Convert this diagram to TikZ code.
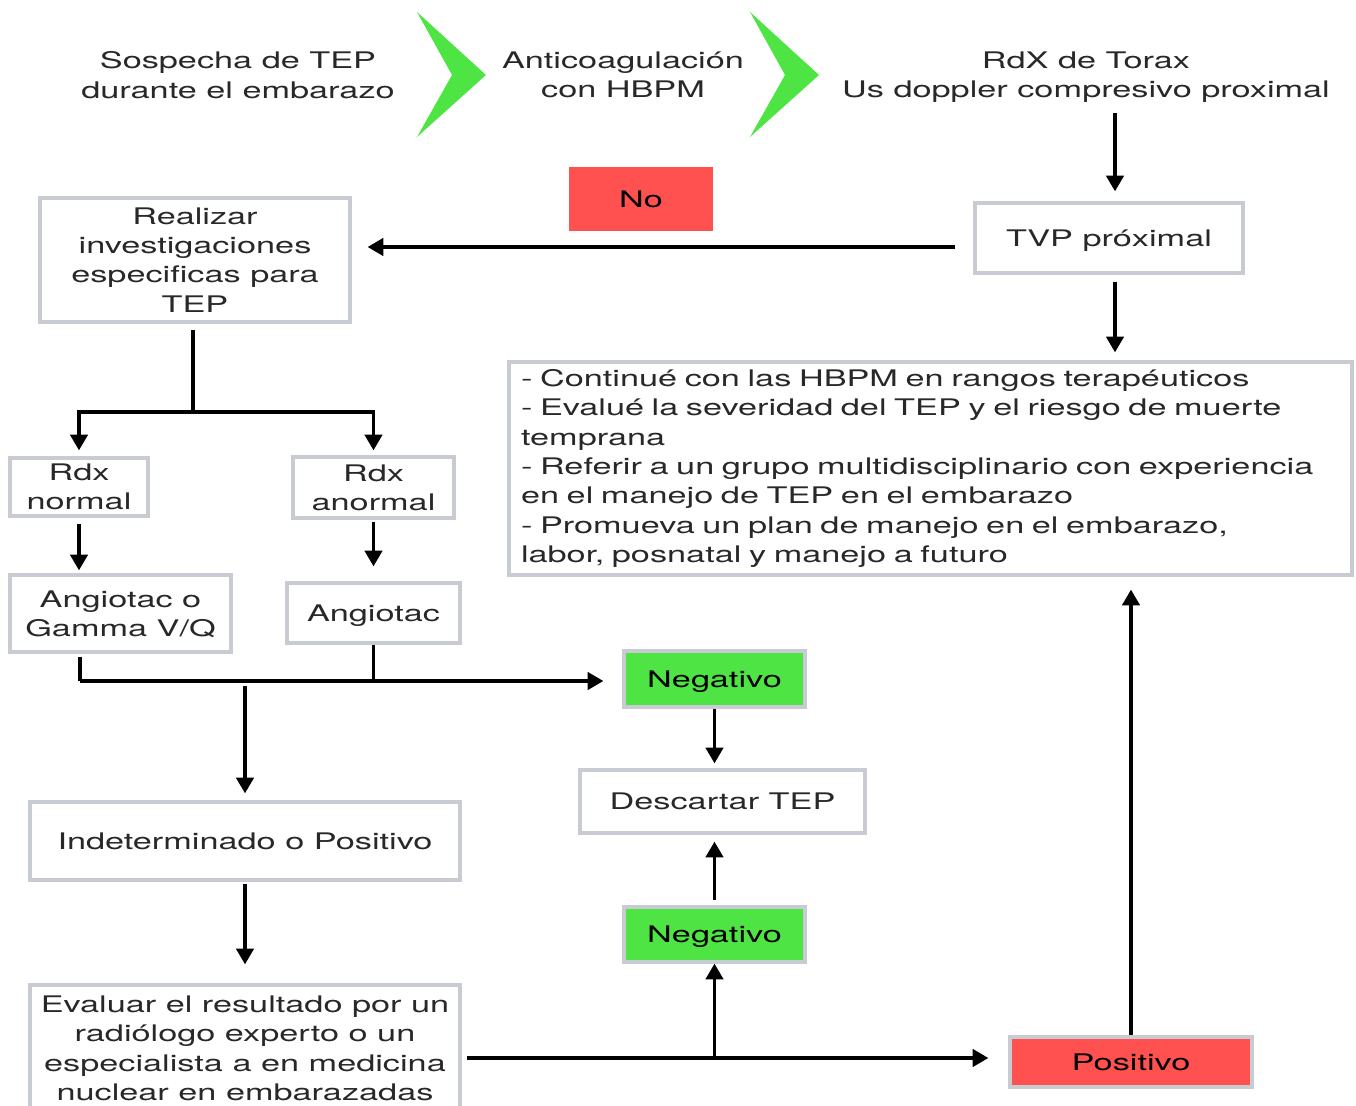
\documentclass[tikz,border=0pt]{standalone}
\usepackage{fontspec}
\setmainfont[FakeStretch=1.5]{TeX Gyre Heros}
\usetikzlibrary{arrows.meta}
\definecolor{boxgray}{RGB}{200,203,210}
\definecolor{txtgray}{RGB}{40,40,40}
\definecolor{okgreen}{RGB}{78,229,68}
\definecolor{badred}{RGB}{255,82,80}
\begin{document}
\begin{tikzpicture}[
  txt/.style={text=txtgray, font=\fontsize{13}{16.7}\selectfont, align=center},
  head/.style={txt, text depth=0pt, inner sep=0pt, minimum height=1.5cm},
  frame/.style={txt, draw=boxgray, line width=1.9pt},
  box/.style={frame, text depth=0pt, inner sep=0pt},
  okbox/.style={box, fill=okgreen, text=black},
  badbox/.style={box, fill=badred, text=black},
  lin/.style={line width=1.8pt},
  arr/.style={lin, -{Triangle[length=9pt,width=10pt]}}
]
\useasboundingbox (0,0) rectangle (27.12,-22.12);
% top row
  \node[head] (susp) at (4.76,-1.5) {Sospecha de TEP\\durante el embarazo};
  \node[head] (antic) at (12.46,-1.5) {Anticoagulación\\con HBPM};
  \node[head] (rdx) at (21.72,-1.5) {RdX de Torax\\Us doppler compresivo proximal};
  \foreach \x in {8.34,15.0}
  	\fill[okgreen] (\x,-0.24) --++ (1.38,-1.26) --++ (-1.38,-1.24) --++ (0.7,1.24) -- cycle;
% boxes
  \node[box, minimum width=5.36cm, minimum height=1.4cm] (tvp) at (22.18,-4.76) {TVP próximal};
  \node[txt, text depth=0pt, fill=badred, text=black, minimum width=2.88cm, minimum height=1.28cm] (no) at (12.82,-3.98) {No};
  \node[box, minimum width=6.2cm, minimum height=2.48cm] (real) at (3.9,-5.2) {Realizar\\investigaciones\\especificas para\\TEP};
  \node[frame, text width=16.38cm, align=left, inner xsep=0.24cm, inner ysep=0.08cm, minimum height=4.26cm] (plan) at (18.61,-9.37)
    {- Continué con las HBPM en rangos terapéuticos\\
     - Evalué la severidad del TEP y el riesgo de muerte\\
     temprana\\
     - Referir a un grupo multidisciplinario con experiencia\\
     en el manejo de TEP en el embarazo\\
     - Promueva un plan de manejo en el embarazo,\\
     labor, posnatal y manejo a futuro};
  \node[box, minimum width=2.76cm, minimum height=1.16cm] (rdxn) at (1.58,-9.74) {Rdx\\normal};
  \node[box, minimum width=3.22cm, minimum height=1.22cm] (rdxa) at (7.47,-9.75) {Rdx\\anormal};
  \node[box, minimum width=4.42cm, minimum height=1.54cm] (angg) at (2.41,-12.27) {Angiotac o\\Gamma V/Q};
  \node[box, minimum width=3.46cm, minimum height=1.2cm] (angt) at (7.47,-12.26) {Angiotac};
  \node[okbox, minimum width=3.62cm, minimum height=1.12cm] (neg1) at (14.29,-13.58) {Negativo};
  \node[box, minimum width=5.7cm, minimum height=1.26cm] (desc) at (14.45,-16.03) {Descartar TEP};
  \node[box, minimum width=8.6cm, minimum height=1.56cm] (indet) at (4.9,-16.82) {Indeterminado o Positivo};
  \node[box, minimum width=8.6cm, minimum height=2.52cm] (eval) at (4.9,-20.96) {Evaluar el resultado por un\\radiólogo experto o un\\especialista a en medicina\\nuclear en embarazadas};
  \node[okbox, minimum width=3.62cm, minimum height=1.1cm] (neg2) at (14.29,-18.69) {Negativo};
  \node[badbox, minimum width=4.84cm, minimum height=1.0cm] (pos) at (22.62,-21.24) {Positivo};
% connectors
  \coordinate (xtvp) at (22.3,0);
  \coordinate (yno) at (0,-4.94);
  \coordinate (split) at (3.86,-8.24);
  \coordinate (mgL) at (1.6,-13.62);
  \coordinate (yev) at (0,-21.16);
  \draw[arr, shorten >=0.2cm] (rdx.south -| xtvp) -- (tvp.north -| xtvp);
  \draw[arr, shorten <=0.36cm, shorten >=0.32cm] (tvp.west |- yno) -- (real.east |- yno);
  \draw[arr, shorten <=0.14cm, shorten >=0.16cm] (tvp.south -| xtvp) -- (plan.north -| xtvp);
  \draw[lin, shorten <=0.12cm] (real.south -| split) -- (split);
  \draw[arr, shorten >=0.12cm] (split) -| (rdxn.north);
  \draw[arr, shorten >=0.1cm] (split) -| (rdxa.north);
  \draw[arr, shorten <=0.12cm, shorten >=0.06cm] (rdxn.south) -- (rdxn.south |- angg.north);
  \draw[arr, shorten <=0.04cm, shorten >=0.3cm] (rdxa.south) -- (angt.north);
  \draw[lin, shorten <=0.06cm] (angg.south -| mgL) -- (mgL);
  \draw[lin] (angt.south) -- (angt.south |- mgL);
  \draw[arr, shorten >=0.38cm] (mgL) -- (neg1.west |- mgL);
  \draw[arr, shorten <=0.1cm, shorten >=0.14cm] (indet.north |- mgL) -- (indet.north);
  \draw[arr, shorten >=0.1cm] (neg1.south) -- (neg1.south |- desc.north);
  \draw[arr, shorten <=0.04cm, shorten >=0.38cm] (indet.south) -- (eval.north);
  \draw[arr, shorten <=0.1cm, shorten >=0.4cm] (eval.east |- yev) -- (pos.west |- yev);
  \draw[arr] (neg2.south |- yev) -- (neg2.south);
  \draw[arr, shorten <=0.1cm, shorten >=0.14cm] (neg2.north) -- (neg2.north |- desc.south);
  \draw[arr, shorten >=0.26cm] (pos.north) -- (pos.north |- plan.south);
\end{tikzpicture}
\end{document}
